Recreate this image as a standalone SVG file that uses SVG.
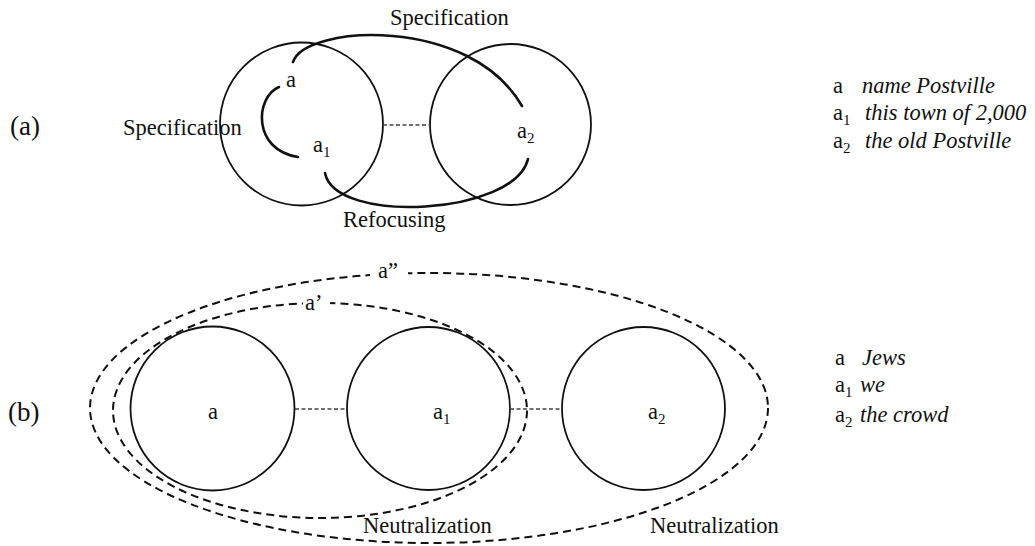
<svg xmlns="http://www.w3.org/2000/svg" width="1035" height="546" viewBox="0 0 1035 546">
<style>
.t{fill:#111;font-size:22.5px}
.it{font-style:italic}
.sub{font-size:15px}
.lab{font-size:27px}
.circ{fill:none;stroke:#111;stroke-width:1.8}
.arc{fill:none;stroke:#111;stroke-width:2.6;stroke-linecap:round}
.link{fill:none;stroke:#444;stroke-width:1.3;stroke-dasharray:4 2.5}
.set{fill:none;stroke:#111;stroke-width:2;stroke-dasharray:8 5}
.bg{fill:#fff}
</style>
<rect width="1035" height="546" fill="#fff"/>

<!-- (a) -->
<text class="t lab" font-family="Liberation Serif" x="10" y="135">(a)</text>
<g id="a-left-circle"><circle class="circ" cx="301.5" cy="124" r="81.5"/></g>
<g id="a-right-circle"><circle class="circ" cx="510.5" cy="124.5" r="80.5"/></g>
<g id="a-connectors">
  <line class="link" x1="383" y1="125" x2="430" y2="125"/>
  <path class="arc" d="M293,62 C305,25 470,15 522,106"/>
  <path class="arc" d="M279,87 C255,97 252,150 298,157"/>
  <path class="arc" d="M325,173 C335,225 515,215 528,159"/>
</g>
<g id="a-labels">
  <text class="t" font-family="Liberation Serif" x="286" y="87">a</text>
  <text class="t" font-family="Liberation Serif" x="313" y="152">a<tspan class="sub" dy="5">1</tspan></text>
  <text class="t" font-family="Liberation Serif" x="517" y="138">a<tspan class="sub" dy="5">2</tspan></text>
  <text class="t" font-family="Liberation Serif" x="390" y="25">Specification</text>
  <text class="t" font-family="Liberation Serif" x="123" y="135">Specification</text>
  <text class="t" font-family="Liberation Serif" x="343" y="227">Refocusing</text>
</g>
<g id="a-legend">
  <text class="t" font-family="Liberation Serif" x="833" y="93">a</text>
  <text class="t it" font-family="Liberation Serif" x="862" y="93">name Postville</text>
  <text class="t" font-family="Liberation Serif" x="833" y="120">a<tspan class="sub" dy="5">1</tspan></text>
  <text class="t it" font-family="Liberation Serif" x="865" y="120">this town of 2,000</text>
  <text class="t" font-family="Liberation Serif" x="833" y="148">a<tspan class="sub" dy="5">2</tspan></text>
  <text class="t it" font-family="Liberation Serif" x="865" y="148">the old Postville</text>
</g>

<!-- (b) -->
<text class="t lab" font-family="Liberation Serif" x="8" y="421">(b)</text>
<g id="b-sets">
  <ellipse class="set" cx="429" cy="408" rx="339" ry="135"/>
  <ellipse class="set" cx="320" cy="410.5" rx="207" ry="107.5"/>
  <rect class="bg" x="370" y="262" width="38" height="20"/>
  <rect class="bg" x="303" y="292" width="27" height="20"/>
  <text class="t" font-family="Liberation Serif" x="378" y="278">a”</text>
  <text class="t" font-family="Liberation Serif" x="305" y="310">a’</text>
</g>
<g id="b-node-a"><circle class="circ" cx="212.5" cy="408.5" r="82"/><text class="t" font-family="Liberation Serif" x="208" y="419">a</text></g>
<g id="b-node-a1"><circle class="circ" cx="428.5" cy="408.5" r="81.5"/><text class="t" font-family="Liberation Serif" x="433" y="419">a<tspan class="sub" dy="5">1</tspan></text></g>
<g id="b-node-a2"><circle class="circ" cx="643.5" cy="408.5" r="81.5"/><text class="t" font-family="Liberation Serif" x="648" y="419">a<tspan class="sub" dy="5">2</tspan></text></g>
<g id="b-connectors">
  <line class="link" x1="295" y1="409" x2="347" y2="409"/>
  <line class="link" x1="510" y1="409" x2="562" y2="409"/>
</g>
<g id="b-labels">
  <text class="t" font-family="Liberation Serif" x="363" y="533">Neutralization</text>
  <text class="t" font-family="Liberation Serif" x="650" y="533">Neutralization</text>
</g>
<g id="b-legend">
  <text class="t" font-family="Liberation Serif" x="835" y="365">a</text>
  <text class="t it" font-family="Liberation Serif" x="862" y="365">Jews</text>
  <text class="t" font-family="Liberation Serif" x="835" y="392">a<tspan class="sub" dy="5">1</tspan></text>
  <text class="t it" font-family="Liberation Serif" x="860" y="392">we</text>
  <text class="t" font-family="Liberation Serif" x="835" y="422">a<tspan class="sub" dy="5">2</tspan></text>
  <text class="t it" font-family="Liberation Serif" x="860" y="422">the crowd</text>
</g>
</svg>
